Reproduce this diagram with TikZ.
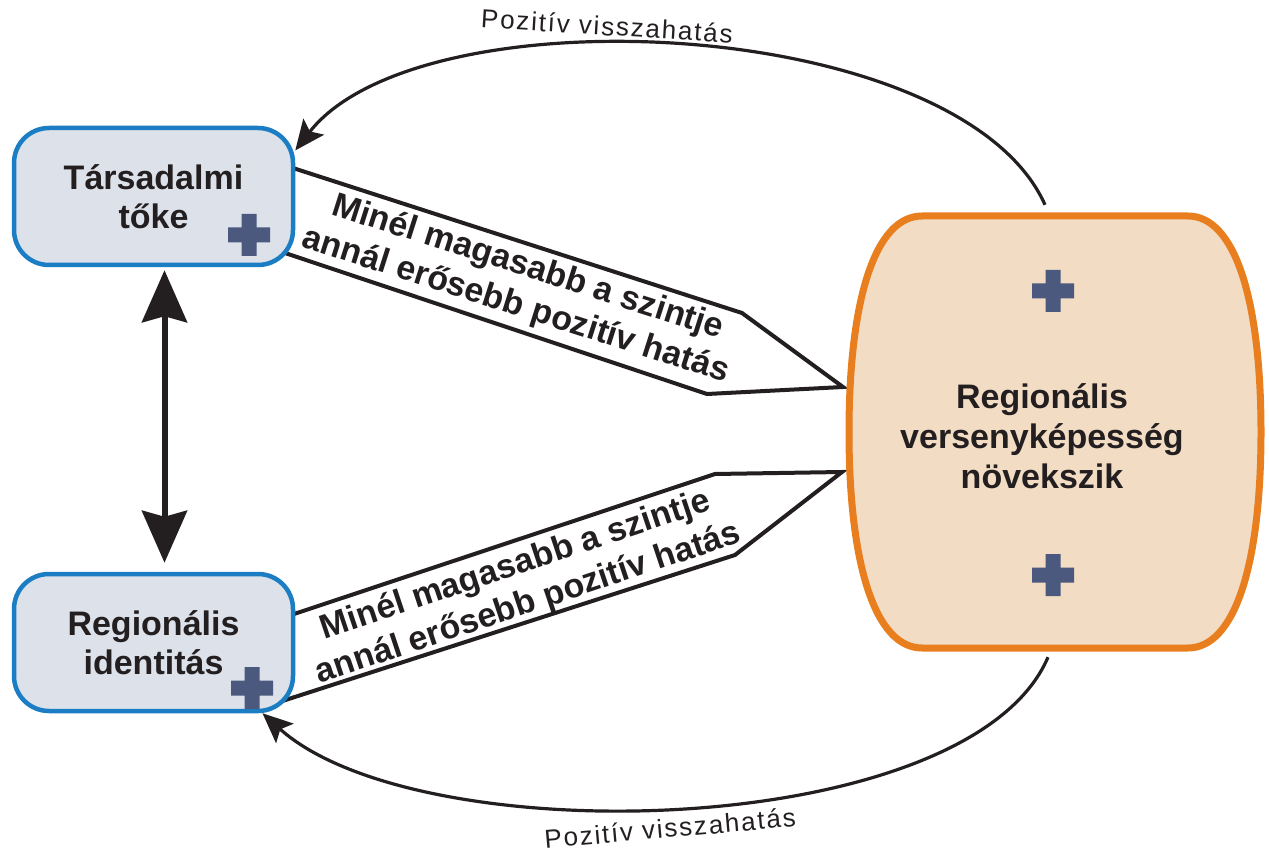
\documentclass[tikz,border=0pt]{standalone}
\usepackage{fontspec}
\setmainfont{Liberation Sans}
\usetikzlibrary{arrows.meta}
\definecolor{boxfill}{RGB}{221,225,233}
\definecolor{boxline}{RGB}{27,125,195}
\definecolor{rvfill}{RGB}{242,220,196}
\definecolor{rvline}{RGB}{232,126,30}
\definecolor{plusblue}{RGB}{74,89,125}
\definecolor{ink}{RGB}{35,31,32}

\begin{document}
\begin{tikzpicture}[x=1pt,y=-1pt,
	factor/.style={draw=boxline, fill=boxfill, line width=4.5pt, rounded corners=35pt, minimum width=279pt, minimum height=137pt, align=center, text=ink, font=\bfseries\fontsize{34}{39}\selectfont},
	pennant/.style={draw=ink, fill=white, line width=4pt, line join=miter},
	msg/.style={align=center, text=ink, font=\bfseries\fontsize{34}{40}\selectfont},
	feedback/.style={draw=ink, line width=3.2pt, -{Stealth[length=30pt,width=26pt,inset=6pt]}},
	fblabel/.style={text=ink, font=\fontsize{26}{30}\selectfont\addfontfeature{LetterSpace=7}}]
	\useasboundingbox (0,0) rectangle (1269,858);
	% pennants
	\draw[pennant] (270,160.6) -- (742,313) -- (843,387) -- (707,394) -- (270,248) -- cycle;
	\draw[pennant] (270,622) -- (715,474) -- (842,472) -- (735,555) -- (270,705) -- cycle;
	% boxes
	\node[factor] (tk) at (153.5,196.5) {Társadalmi\\tőke};
	\node[factor] (ri) at (153.5,642.5) {Regionális\\identitás};
	\draw[draw=rvline, fill=rvfill, line width=7pt] (922,216) -- (1188,216) .. controls (1235,216) and (1261,300) .. (1261,432) .. controls (1261,564) and (1235,648) .. (1188,648) -- (922,648) .. controls (875,648) and (849,564) .. (849,432) .. controls (849,300) and (875,216) .. (922,216) -- cycle;
	\node[msg, minimum height=432pt] (rv) at (1042,436) {Regionális\\versenyképesség\\növekszik};
	\foreach \cx/\cy in {249/235, 252/688, 1053/291, 1053/575}
		\fill[plusblue] (\cx-21,\cy-7.5) rectangle (\cx+21,\cy+7.5) (\cx-7.5,\cy-21) rectangle (\cx+7.5,\cy+21);
	% texts in the pennants
	\node[msg, rotate=-17.7] (upmsg) at (522,287) {Minél magasabb a szintje\\annál erősebb pozitív hatás};
	\node[msg, rotate=18.5] (lowmsg) at (522,585) {Minél magasabb a szintje\\annál erősebb pozitív hatás};
	% arrows
	\draw[draw=ink, line width=6pt, {Stealth[length=52pt,width=45pt,inset=6pt]}-{Stealth[length=52pt,width=45pt,inset=6pt]}] ([xshift=11pt,yshift=-3pt]tk.south) -- ([xshift=11pt,yshift=9pt]ri.north);
	\draw[feedback] ([xshift=3pt,yshift=15pt]rv.north) .. controls (960,15) and (420,-10) .. (tk.18);
	\draw[feedback] ([xshift=6pt,yshift=-5pt]rv.south) .. controls (970,840) and (420,855) .. (ri.-33);
	\node[fblabel, rotate=-3.5] (fbtop) at (607,26) {Pozitív visszahatás};
	\node[fblabel, rotate=5] (fbbot) at (670,828) {Pozitív visszahatás};
\end{tikzpicture}
\end{document}
